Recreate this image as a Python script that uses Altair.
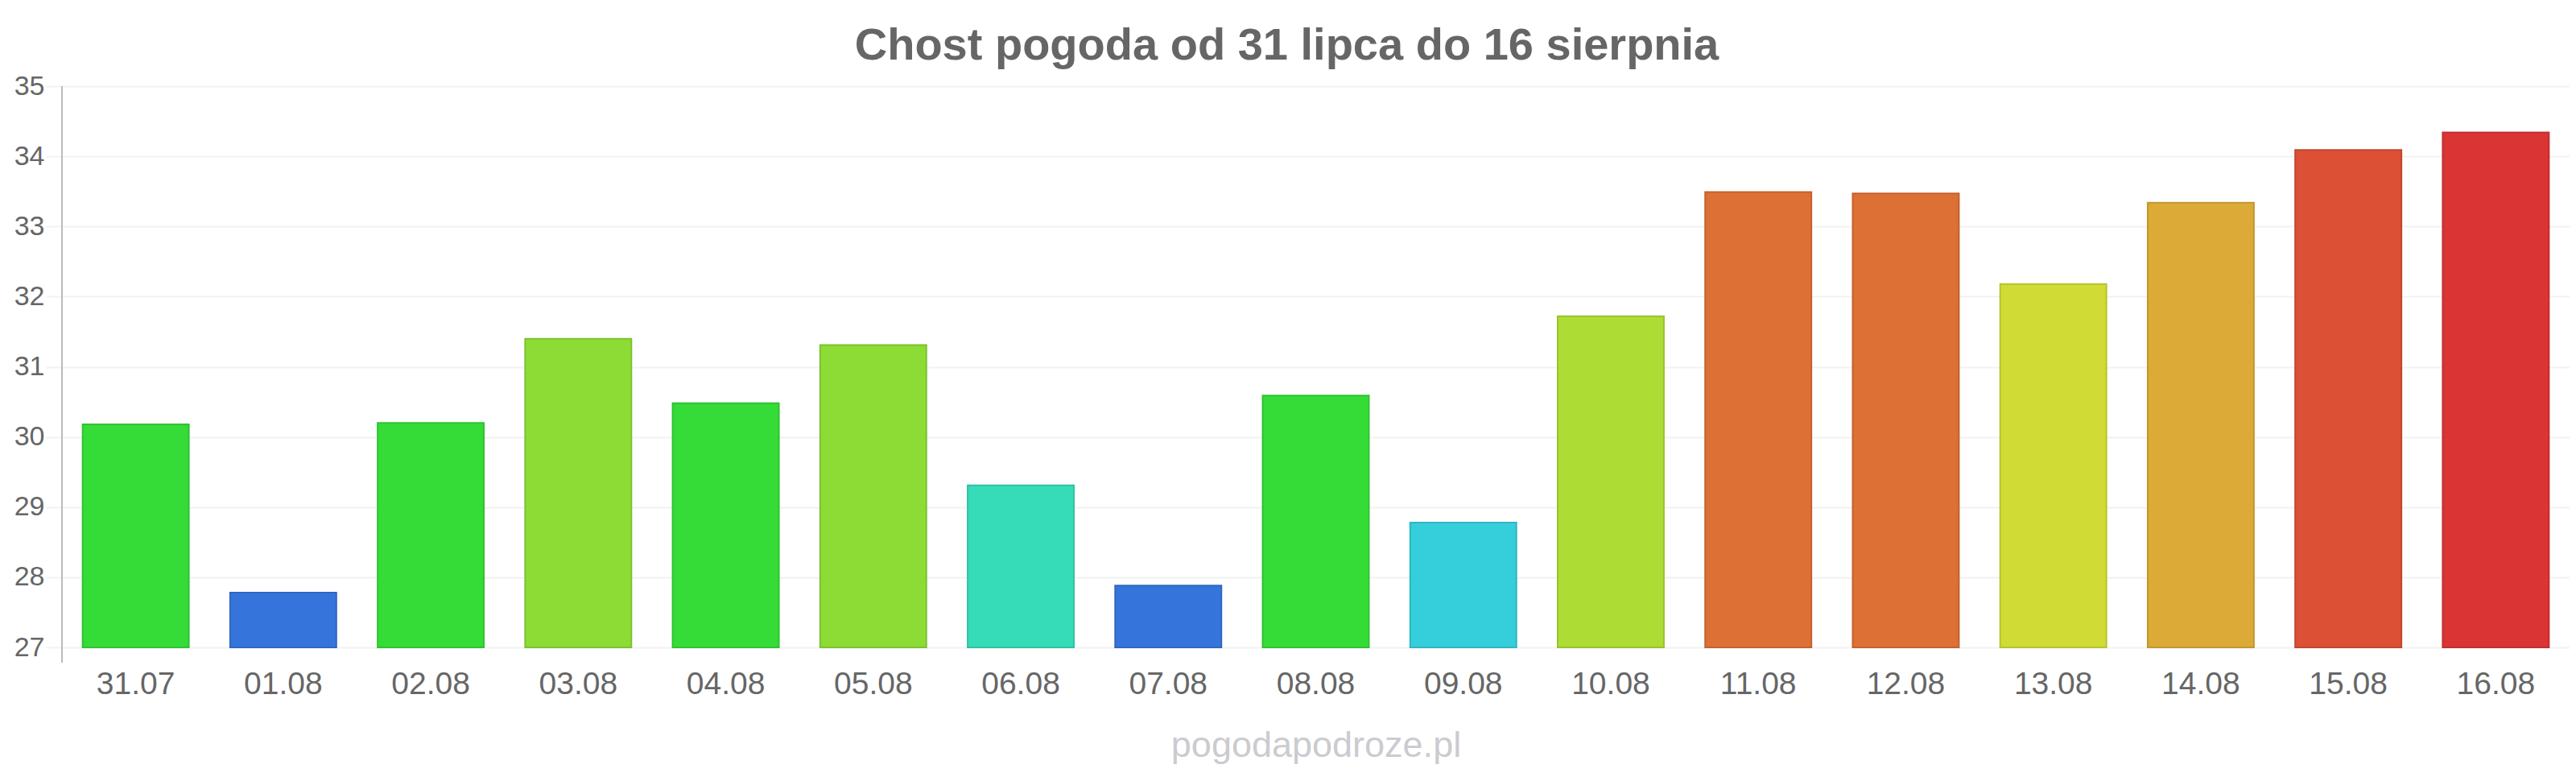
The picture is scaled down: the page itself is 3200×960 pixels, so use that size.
import altair as alt
import pandas as pd

days = ["31.07", "01.08", "02.08", "03.08", "04.08", "05.08", "06.08", "07.08", "08.08",
        "09.08", "10.08", "11.08", "12.08", "13.08", "14.08", "15.08", "16.08"]
temps = [30.18, 27.78, 30.2, 31.4, 30.48, 31.31, 29.31, 27.88, 30.59,
         28.78, 31.72, 33.49, 33.47, 32.18, 33.34, 34.09, 34.34]

fill_colors = ["#35dc37", "#3575db", "#35dc37", "#8cdc35", "#35dc37", "#8cdc35", "#36dcb8",
               "#3575db", "#35dc37", "#35cfdb", "#addd35", "#dd7035", "#dd7035", "#d0dc35",
               "#dcaa36", "#dc5035", "#db3435"]
stroke_colors = ["#2fc231", "#2f67c2", "#2fc231", "#7cc22f", "#2fc231", "#7cc22f", "#2fc2a2",
                 "#2f67c2", "#2fc231", "#2fb6c2", "#99c22f", "#c2622f", "#c2622f", "#b8c22f",
                 "#c2962f", "#c2462f", "#c22e2f"]

y_ticks = [27, 28, 29, 30, 31, 32, 33, 34, 35]
title_text = "Chost pogoda od 31 lipca do 16 sierpnia"
watermark = "pogodapodroze.pl"

df = pd.DataFrame({"day": days, "temp": temps})

FONT = "Liberation Sans"
W, H = 3115, 697

x_enc = alt.X("day:N", sort=days,
              scale=alt.Scale(paddingInner=0.28, paddingOuter=0.14),
              axis=alt.Axis(title=watermark, labelAngle=0, labelFontSize=39,
                            labelColor="#666666", labelFont=FONT, labelPadding=26,
                            ticks=False, tickSize=0, domain=False, grid=False,
                            titleFontSize=45, titleColor="#cbcbd0", titleFont=FONT,
                            titleFontWeight="normal", titlePadding=34))

bars = alt.Chart(df).mark_bar(strokeWidth=2).encode(
    x=x_enc,
    y=alt.Y("temp:Q", scale=alt.Scale(domain=[27, 35], nice=False, zero=False),
            axis=alt.Axis(title=None, values=y_ticks, labelFontSize=34,
                          labelColor="#666666", labelFont=FONT, labelPadding=2,
                          tickSize=20, tickColor="#f2f2f2", tickWidth=2,
                          domain=False, gridColor="#f2f2f2", gridWidth=2)),
    y2=alt.datum(27),
    color=alt.Color("day:N", sort=days, scale=alt.Scale(domain=days, range=fill_colors), legend=None),
    stroke=alt.Stroke("day:N", sort=days, scale=alt.Scale(domain=days, range=stroke_colors), legend=None),
)

axis_line = alt.Chart(df).mark_rule(color="#bbbbbb", strokeWidth=2).encode(
    x=alt.value(0), y=alt.value(0), y2=alt.value(H + 19)
)

chart = alt.layer(bars, axis_line).properties(
    width=W, height=H,
    title=alt.TitleParams(title_text, fontSize=56, fontWeight="bold", color="#666666",
                          font=FONT, anchor="middle", frame="group", offset=4, dx=-36),
    padding={"left": 69, "top": 99, "right": 0, "bottom": 148},
    autosize=alt.AutoSizeParams(type="none"),
).configure_view(stroke=None).configure(background="white")

chart.save("out.html", embed_options={"renderer": "svg", "actions": False})
